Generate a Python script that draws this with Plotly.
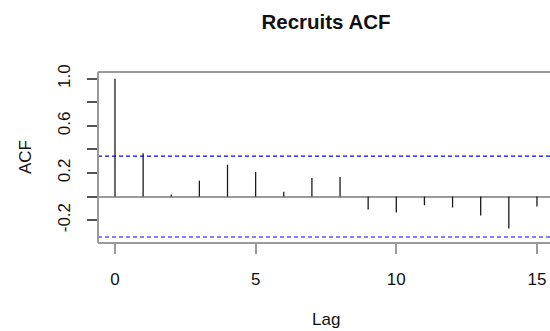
import plotly.graph_objects as go

# Data
lags = [0, 1, 2, 3, 4, 5, 6, 7, 8, 9, 10, 11, 12, 13, 14, 15]
acf_vals = [1.0, 0.367, 0.017, 0.135, 0.27, 0.209, 0.04, 0.157, 0.166,
            -0.11, -0.135, -0.073, -0.093, -0.16, -0.27, -0.085]
ci_level = 0.343
ytick_vals = [-0.2, 0.0, 0.2, 0.4, 0.6, 0.8, 1.0]
ytick_text = ["-0.2", "", "0.2", "", "0.6", "", "1.0"]
xtick_vals = [0, 5, 10, 15]

FONT = "Liberation Sans, Arial, sans-serif"
GREY = "#9a9a9a"

seg_x, seg_y = [], []
for lag, v in zip(lags, acf_vals):
    seg_x += [lag, lag, None]
    seg_y += [0, v, None]

fig = go.Figure()
fig.add_trace(go.Scatter(x=seg_x, y=seg_y, mode="lines",
                         line=dict(color="#1a1a1a", width=1.3),
                         hoverinfo="skip", showlegend=False))

for lvl in (ci_level, -ci_level):
    fig.add_hline(y=lvl, line=dict(color="#0000ff", width=1.2, dash="4px,3px"))

# box (top, left, bottom) — right edge lies outside the window
fig.add_shape(type="line", xref="paper", yref="paper", x0=0, x1=1, y0=1, y1=1,
              line=dict(color=GREY, width=2))
fig.add_shape(type="line", xref="paper", yref="paper", x0=0, x1=0, y0=0, y1=1,
              line=dict(color=GREY, width=2))
fig.add_shape(type="line", xref="paper", yref="paper", x0=0, x1=1, y0=0, y1=0,
              line=dict(color=GREY, width=2))

fig.update_layout(
    width=550, height=331,
    margin=dict(l=98, r=0, t=72, b=88),
    paper_bgcolor="white", plot_bgcolor="white",
    font=dict(family=FONT, size=17, color="#111"),
    title=dict(text="<b>Recruits ACF</b>", x=326 / 550, xanchor="center",
               y=(331 - 22) / 331, yanchor="middle",
               font=dict(family=FONT, size=20.5, color="#111")),
    showlegend=False,
    xaxis=dict(range=[-0.604, 15.464], tickvals=xtick_vals,
               ticks="outside", ticklen=10, tickwidth=2, tickcolor=GREY,
               showgrid=False, zeroline=False, showline=False,
               ticklabelstandoff=11, tickfont=dict(size=17)),
    yaxis=dict(range=[-0.394, 1.057], tickvals=ytick_vals, ticktext=ytick_text,
               tickangle=-90, ticks="outside", ticklen=10, tickwidth=2,
               tickcolor="#555", showgrid=False, zeroline=True,
               zerolinecolor=GREY, zerolinewidth=2, showline=False,
               ticklabelstandoff=10, tickfont=dict(size=17)),
    annotations=[
        dict(text="Lag", xref="paper", yref="paper", x=(326 - 98) / 452,
             y=(243 - 319) / 171, xanchor="center", yanchor="middle",
             showarrow=False, font=dict(size=17)),
        dict(text="ACF", xref="paper", yref="paper", x=(25 - 98) / 452,
             y=(243 - 157) / 171, xanchor="center", yanchor="middle",
             textangle=-90, showarrow=False, font=dict(size=17)),
    ],
)

fig.write_html("out.html")
